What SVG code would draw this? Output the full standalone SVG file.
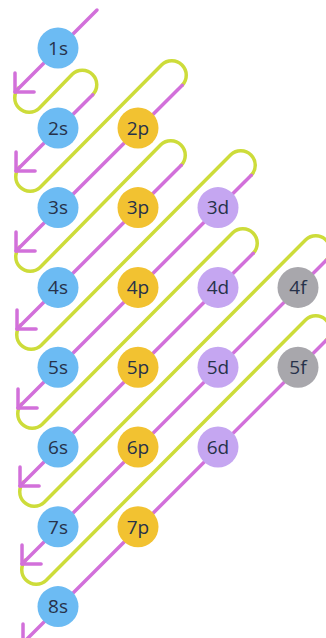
<svg xmlns="http://www.w3.org/2000/svg" width="326" height="638" viewBox="0 0 326 638">
  <style>
    .fill-line { fill: none; stroke: #cddc3a; stroke-width: 3.5; stroke-linecap: round; }
    .diag { fill: none; stroke: #d270da; stroke-width: 3.5; stroke-linecap: round; marker-end: url(#chevron); }
    .orb circle { stroke: none; }
    .s circle { fill: #6cbbf3; }
    .p circle { fill: #f2c231; }
    .d circle { fill: #c5a6f1; }
    .f circle { fill: #a8a7ac; }
    .orb text { font-family: "Open Sans", "Noto Sans", "Liberation Sans", sans-serif; font-size: 19px; fill: #27324a; text-anchor: middle; }
  </style>
  <defs>
    <marker id="chevron" markerUnits="userSpaceOnUse" orient="auto" overflow="visible" markerWidth="1" markerHeight="1" refX="0" refY="0">
      <path d="M -13.5 -13.5 L 0 0 L -13.5 13.5" fill="none" stroke="#d270da" stroke-width="3.5" stroke-linecap="round" stroke-linejoin="round"/>
    </marker>
  </defs>

  <rect width="326" height="638" fill="#ffffff"/>

  <g id="connectors">
    <!-- return loops: bottom turn, climb, top turn -->
    <path class="fill-line" d="M 18.75 87.75 A 14.5 14.5 0 0 0 39.25 108.25 L 72.25 74.25 A 14.5 14.5 0 0 1 92.75 94.75"/>
    <path class="fill-line" d="M 19.75 166.75 A 14.5 14.5 0 0 0 40.25 187.25 L 161.75 64.75 A 14.5 14.5 0 0 1 182.25 85.25"/>
    <path class="fill-line" d="M 19.75 246.75 A 14.5 14.5 0 0 0 40.25 267.25 L 160.75 144.75 A 14.5 14.5 0 0 1 181.25 165.25"/>
    <path class="fill-line" d="M 20.75 324.75 A 14.5 14.5 0 0 0 41.25 345.25 L 230.75 154.75 A 14.5 14.5 0 0 1 251.25 175.25"/>
    <path class="fill-line" d="M 21.75 403.75 A 14.5 14.5 0 0 0 42.25 424.25 L 232.75 232.75 A 14.5 14.5 0 0 1 253.25 253.25"/>
    <path class="fill-line" d="M 23.75 481.75 A 14.5 14.5 0 0 0 44.25 502.25 L 305.75 239.75 A 14.5 14.5 0 0 1 326.25 260.25"/>
    <path class="fill-line" d="M 25.75 559.75 A 14.5 14.5 0 0 0 46.25 580.25 L 305.75 319.75 A 14.5 14.5 0 0 1 326.25 340.25"/>

    <!-- filling diagonals -->
    <path class="diag" d="M 97 10 L 15 92"/>
    <path class="diag" d="M 92.75 94.75 L 16 171"/>
    <path class="diag" d="M 182.25 85.25 L 16 251"/>
    <path class="diag" d="M 181.25 165.25 L 17 329"/>
    <path class="diag" d="M 251.25 175.25 L 18 408"/>
    <path class="diag" d="M 253.25 253.25 L 20 486"/>
    <path class="diag" d="M 326.25 260.25 L 22 564"/>
    <path class="diag" d="M 326.25 340.25 L 23 643"/>
  </g>

  <g id="n1s" class="orb s"><circle cx="58" cy="48" r="20.5"/><text x="58" y="54.8">1s</text></g>
  <g id="n2s" class="orb s"><circle cx="58" cy="128" r="20.5"/><text x="58" y="134.8">2s</text></g>
  <g id="n2p" class="orb p"><circle cx="138" cy="128" r="20.5"/><text x="138" y="134.8">2p</text></g>
  <g id="n3s" class="orb s"><circle cx="58" cy="207.6" r="20.5"/><text x="58" y="214.4">3s</text></g>
  <g id="n3p" class="orb p"><circle cx="138" cy="207.6" r="20.5"/><text x="138" y="214.4">3p</text></g>
  <g id="n3d" class="orb d"><circle cx="218" cy="207.6" r="20.5"/><text x="218" y="214.4">3d</text></g>
  <g id="n4s" class="orb s"><circle cx="58" cy="287.4" r="20.5"/><text x="58" y="294.2">4s</text></g>
  <g id="n4p" class="orb p"><circle cx="138" cy="287.4" r="20.5"/><text x="138" y="294.2">4p</text></g>
  <g id="n4d" class="orb d"><circle cx="218" cy="287.4" r="20.5"/><text x="218" y="294.2">4d</text></g>
  <g id="n4f" class="orb f"><circle cx="298" cy="287.4" r="20.5"/><text x="298" y="294.2">4f</text></g>
  <g id="n5s" class="orb s"><circle cx="58" cy="367.2" r="20.5"/><text x="58" y="374">5s</text></g>
  <g id="n5p" class="orb p"><circle cx="138" cy="367.2" r="20.5"/><text x="138" y="374">5p</text></g>
  <g id="n5d" class="orb d"><circle cx="218" cy="367.2" r="20.5"/><text x="218" y="374">5d</text></g>
  <g id="n5f" class="orb f"><circle cx="298" cy="367.2" r="20.5"/><text x="298" y="374">5f</text></g>
  <g id="n6s" class="orb s"><circle cx="58" cy="447" r="20.5"/><text x="58" y="453.8">6s</text></g>
  <g id="n6p" class="orb p"><circle cx="138" cy="447" r="20.5"/><text x="138" y="453.8">6p</text></g>
  <g id="n6d" class="orb d"><circle cx="218" cy="447" r="20.5"/><text x="218" y="453.8">6d</text></g>
  <g id="n7s" class="orb s"><circle cx="58" cy="526.8" r="20.5"/><text x="58" y="533.6">7s</text></g>
  <g id="n7p" class="orb p"><circle cx="138" cy="526.8" r="20.5"/><text x="138" y="533.6">7p</text></g>
  <g id="n8s" class="orb s"><circle cx="58" cy="606.6" r="20.5"/><text x="58" y="613.4">8s</text></g>
</svg>
